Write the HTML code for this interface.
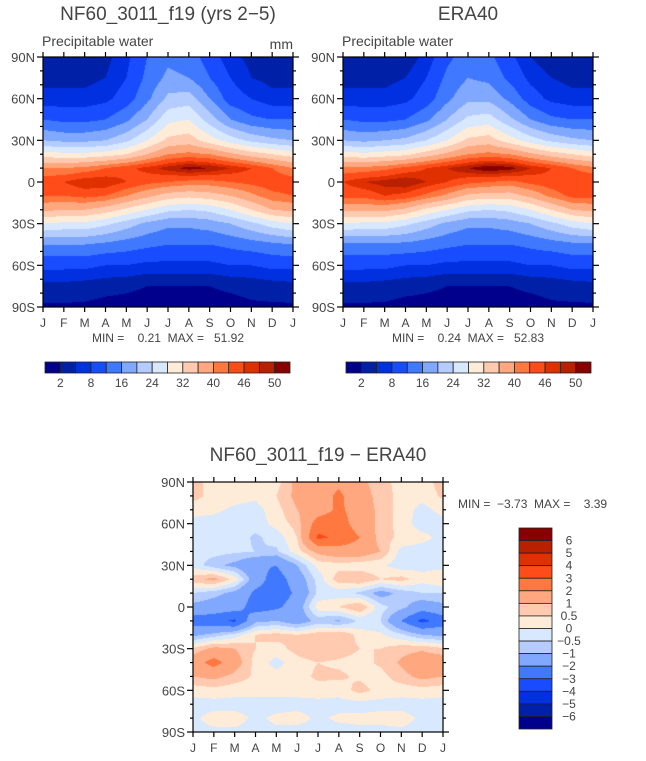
<!DOCTYPE html>
<html><head><meta charset="utf-8">
<style>
body{margin:0;background:#fff;width:646px;height:761px;position:relative;overflow:hidden;font-family:"Liberation Sans",sans-serif;}
canvas{position:absolute;}
svg{position:absolute;left:0;top:0;}
</style></head>
<body>
<canvas id="cv1" style="left:43px;top:57px" width="250" height="250"></canvas>
<canvas id="cv2" style="left:343px;top:57px" width="250" height="250"></canvas>
<canvas id="cv3" style="left:193px;top:482px" width="250" height="250"></canvas>
<svg id="ov" width="646" height="761"></svg>
<script>
const months = ['J','F','M','A','M','J','J','A','S','O','N','D','J'];
const latRows = [90,75,60,45,30,20,10,0,-10,-20,-30,-45,-60,-75,-90];
const modelPW = [
[3,3,3,4,7,12,15,14,10,6,4,3,3],
[4,4,4,5,8,13,17,16,12,8,5,4,4],
[6,6,6,7,10,15,21,22,16,10,8,6,6],
[12,11,11,12,15,20,27,28,22,16,13,12,12],
[20,19,19,20,23,28,33,34,30,26,23,21,20],
[30,29,29,30,32,36,40,41,40,37,34,32,30],
[40,40,41,43,45,47,49,51,50,48,46,43,40],
[45,46,48,48,46,44,43,42,42,43,44,45,45],
[43,43,44,43,40,37,34,33,34,36,39,42,43],
[37,36,36,34,31,28,25,24,25,28,32,36,37],
[28,27,27,25,22,19,17,17,18,20,23,26,28],
[16,16,16,15,14,13,12,12,12,13,14,15,16],
[9,9,9,8,8,7,7,7,7,8,8,9,9],
[4,4,3.5,3,2.5,2,2,2,2,2.5,3,3.5,4],
[1.5,1.5,1.5,1,1,1,1,1,1,1,1.5,1.5,1.5]];
const eraPW = [
[2,2,2,3,6,11,14,13,9,5,3,2,2],
[4,4,4,5,8,13,16,15,11,7,5,4,4],
[6,6,6,7,10,15,19,19,15,10,7,6,6],
[12,11,11,12,15,20,25,26,21,16,13,12,12],
[20,19,20,21,24,28,33,34,30,26,23,21,20],
[30,29,30,31,34,37,40,41,40,37,34,32,30],
[41,41,42,44,46,48,50,52,51,48,46,43,41],
[46,48,49,50,48,46,44,43,42,44,45,46,46],
[44,44,46,45,42,39,35,34,34,37,41,44,44],
[37,37,37,35,31,28,25,24,25,28,32,36,37],
[28,27,27,25,22,19,17,17,18,20,23,26,28],
[15,15,15,15,14,13,12,12,12,13,14,15,15],
[9,9,9,8,8,7,7,7,7,8,8,9,9],
[4,4,3.5,3,2.5,2,2,2,2,2.5,3,3.5,4],
[1.5,1.5,1.5,1,1,1,1,1,1,1,1.5,1.5,1.5]];
const diffLats = [90,80,70,60,50,40,30,20,10,0,-10,-20,-30,-40,-50,-60,-70,-80,-90];
const diffPW = [
[0.7,0.3,0.3,0.2,0.3,1.2,1.5,1.8,1.2,0.7,0.3,0.3,0.7],
[0.7,0.3,0.2,0.1,0.5,1.2,1.5,2.2,1.3,0.8,0.3,0.2,0.6],
[0.2,0.1,-0.1,-0.2,0.3,1.0,1.5,2.2,1.5,0.8,0.3,-0.2,0.2],
[-0.2,-0.2,-0.3,-0.3,0.2,0.7,2.5,2.5,1.5,0.8,0.3,-0.3,-0.2],
[-0.2,-0.3,-0.2,-0.6,-0.3,0.5,3.2,2.8,2.0,0.7,0.4,0.2,-0.2],
[-0.3,-0.3,-0.4,-0.5,-0.6,0.3,1.2,1.5,1.5,1.0,-0.2,-0.3,-0.3],
[-0.2,-0.8,-1.2,-1.8,-2.0,-1.0,0.2,0.3,0.2,0.1,-0.3,-0.2,-0.2],
[0.8,1.2,0.3,-1.5,-2.5,-1.5,-0.3,0.8,1.0,0.5,0.7,0.2,0.5],
[-0.5,-0.8,-1.2,-2.2,-2.6,-1.8,-0.4,-0.3,-0.6,-1.3,-0.8,-0.5,-0.5],
[-1.2,-1.4,-1.5,-2.5,-2.2,-1.5,0.3,0.5,1.0,-0.3,-0.8,-1.5,-1.2],
[-2.5,-2.6,-3.2,-1.2,-1,-1.5,-0.8,-1.1,-0.4,-0.5,-2,-3.3,-2.5],
[-1.2,-0.8,-0.3,0.5,0.7,0.5,0.8,1,0.3,0.1,-0.4,-1,-1.2],
[0.6,1.2,1.0,0.5,0.3,0.7,1.0,0.8,0.5,0.5,0.8,0.9,0.6],
[1.5,2.4,1.4,0.3,-0.2,0.3,0.5,0.4,0.3,0.6,1.1,1.5,1.5],
[1.0,1.2,0.8,0.4,0.2,0.3,0.6,0.6,0.4,0.3,0.8,1.2,1.0],
[0.2,0.3,0.2,0.2,0.2,0.2,0.3,0.2,0.7,0.3,0.2,0.3,0.2],
[-0.2,-0.2,-0.2,-0.2,-0.2,-0.2,-0.2,-0.2,-0.2,-0.2,-0.2,-0.2,-0.2],
[-0.1,0.2,0.2,-0.1,0.1,0.2,-0.1,0.1,0.1,0.2,0.2,-0.1,-0.1],
[-0.2,-0.1,-0.1,-0.2,-0.1,-0.2,-0.2,-0.2,-0.1,-0.2,-0.1,-0.2,-0.2]];
const pwLevels = [2,5,8,12,16,20,24,28,32,36,40,43,46,48,50];
const pwLabels = ['2','8','16','24','32','40','46','50'];
const diffLevels = [-6,-5,-4,-3,-2,-1,-0.5,0,0.5,1,2,3,4,5,6];
const diffLabels = ['6','5','4','3','2','1','0.5','0','\u22120.5','\u22121','\u22122','\u22123','\u22124','\u22125','\u22126'];
const latTicks = ['90N','60N','30N','0','30S','60S','90S'];
const stats = ['MIN =    0.21  MAX =   51.92','MIN =    0.24  MAX =   52.83','MIN =  \u22123.73  MAX =    3.39'];
const colors = ['#00008c','#0020a8','#0030e0','#1a4cff','#4078ff','#80a8ff','#b4ccff','#d8e8ff','#ffecd8','#ffcab0','#ffa880','#ff7840','#ff4c18','#e03000','#b82000','#880000'];

function hex(c){return [parseInt(c.substr(1,2),16),parseInt(c.substr(3,2),16),parseInt(c.substr(5,2),16)];}
function sample(grid,lats,t,lat){
  let i=0; while(i<lats.length-2 && lat<lats[i+1]) i++;
  const f=(lats[i]-lat)/(lats[i]-lats[i+1]);
  const j=Math.min(Math.floor(t),11), g=t-j;
  const a=grid[i][j]*(1-g)+grid[i][j+1]*g, b=grid[i+1][j]*(1-g)+grid[i+1][j+1]*g;
  return a*(1-f)+b*f;
}
function drawField(id,grid,lats,levels){
  const cv=document.getElementById(id),ctx=cv.getContext('2d');
  const W=cv.width,H=cv.height,img=ctx.createImageData(W,H);
  const rgb=colors.map(hex);
  for(let y=0;y<H;y++){const lat=90-180*(y+0.5)/H;
    for(let x=0;x<W;x++){const t=12*(x+0.5)/W;
      const v=sample(grid,lats,t,lat);
      let k=0; while(k<levels.length && v>=levels[k]) k++;
      const c=rgb[k],p=(y*W+x)*4; img.data[p]=c[0];img.data[p+1]=c[1];img.data[p+2]=c[2];img.data[p+3]=255;}}
  ctx.putImageData(img,0,0);
}
drawField('cv1',modelPW,latRows,pwLevels);
drawField('cv2',eraPW,latRows,pwLevels);
drawField('cv3',diffPW,diffLats,diffLevels);

const NS='http://www.w3.org/2000/svg', ov=document.getElementById('ov');
function el(tag,attrs,parent){const e=document.createElementNS(NS,tag);for(const k in attrs)e.setAttribute(k,attrs[k]);(parent||ov).appendChild(e);return e;}
function txt(x,y,s,size,anchor,name){const e=el('text',{x:x,y:y,'font-size':size,'text-anchor':anchor||'start',fill:'#444','font-family':'Liberation Sans, sans-serif'});e.textContent=s;


e.setAttribute('xml:space','preserve');e.style.whiteSpace='pre';return e;}
function axes(x0,y0,w,h,pfx){
  const g=el('g',{stroke:'#000','stroke-width':1.2});
  
  
  el('rect',{x:x0,y:y0,width:w,height:h,fill:'none'},g);
  for(let i=0;i<=18;i++){const y=y0+h*i/18,L=(i%3==0)?6:3;
    el('line',{x1:x0-L,y1:y,x2:x0,y2:y},g); el('line',{x1:x0+w,y1:y,x2:x0+w+L,y2:y},g);}
  for(let i=0;i<=12;i++){const x=x0+w*i/12;
    el('line',{x1:x,y1:y0-5,x2:x,y2:y0},g); el('line',{x1:x,y1:y0+h,x2:x,y2:y0+h+5},g);}
  latTicks.forEach((s,i)=>txt(x0-8,y0+h*i/6+5,s,13,'end',pfx+'-lat-label'));
  months.forEach((s,i)=>txt(x0+w*i/12,y0+h+20,s,12,'middle',pfx+'-month-label'));
}
axes(43,57,250,250,'model'); axes(343,57,250,250,'era40'); axes(193,482,250,250,'diff');
txt(168,20,'NF60_3011_f19 (yrs 2\u22125)',19,'middle','model-title');
txt(42,46,'Precipitable water',14,'start','model-subtitle');
txt(293,49,'mm',14,'end','model-units');
txt(468,20,'ERA40',19,'middle','era40-title');
txt(342,46,'Precipitable water',14,'start','era40-subtitle');
txt(318,461,'NF60_3011_f19 \u2212 ERA40',19,'middle','diff-title');
txt(168,342,stats[0],12,'middle','model-minmax');
txt(468,342,stats[1],12,'middle','era40-minmax');
txt(458,508,stats[2],12,'start','diff-minmax');
function hbar(x0,pfx){const y0=362,bw=245/16;
  colors.forEach((c,i)=>{const r=el('rect',{x:x0+i*bw,y:y0,width:bw,height:11,fill:c,stroke:'#222','stroke-width':0.8});
    
    });
  pwLabels.forEach((s,i)=>txt(x0+bw*(1+2*i),387,s,12,'middle',pfx+'-colorbar-label'));}
hbar(45,'model'); hbar(346,'era40');
(function(){const x0=519,y0=528,bh=201/16;
  colors.slice().reverse().forEach((c,i)=>{const r=el('rect',{x:x0,y:y0+i*bh,width:33,height:bh,fill:c,stroke:'#222','stroke-width':0.8});
    
    });
  diffLabels.forEach((s,i)=>txt(569,y0+bh*(i+1)+4,s,12,'middle','diff-colorbar-label'));})();
</script>
</body></html>
